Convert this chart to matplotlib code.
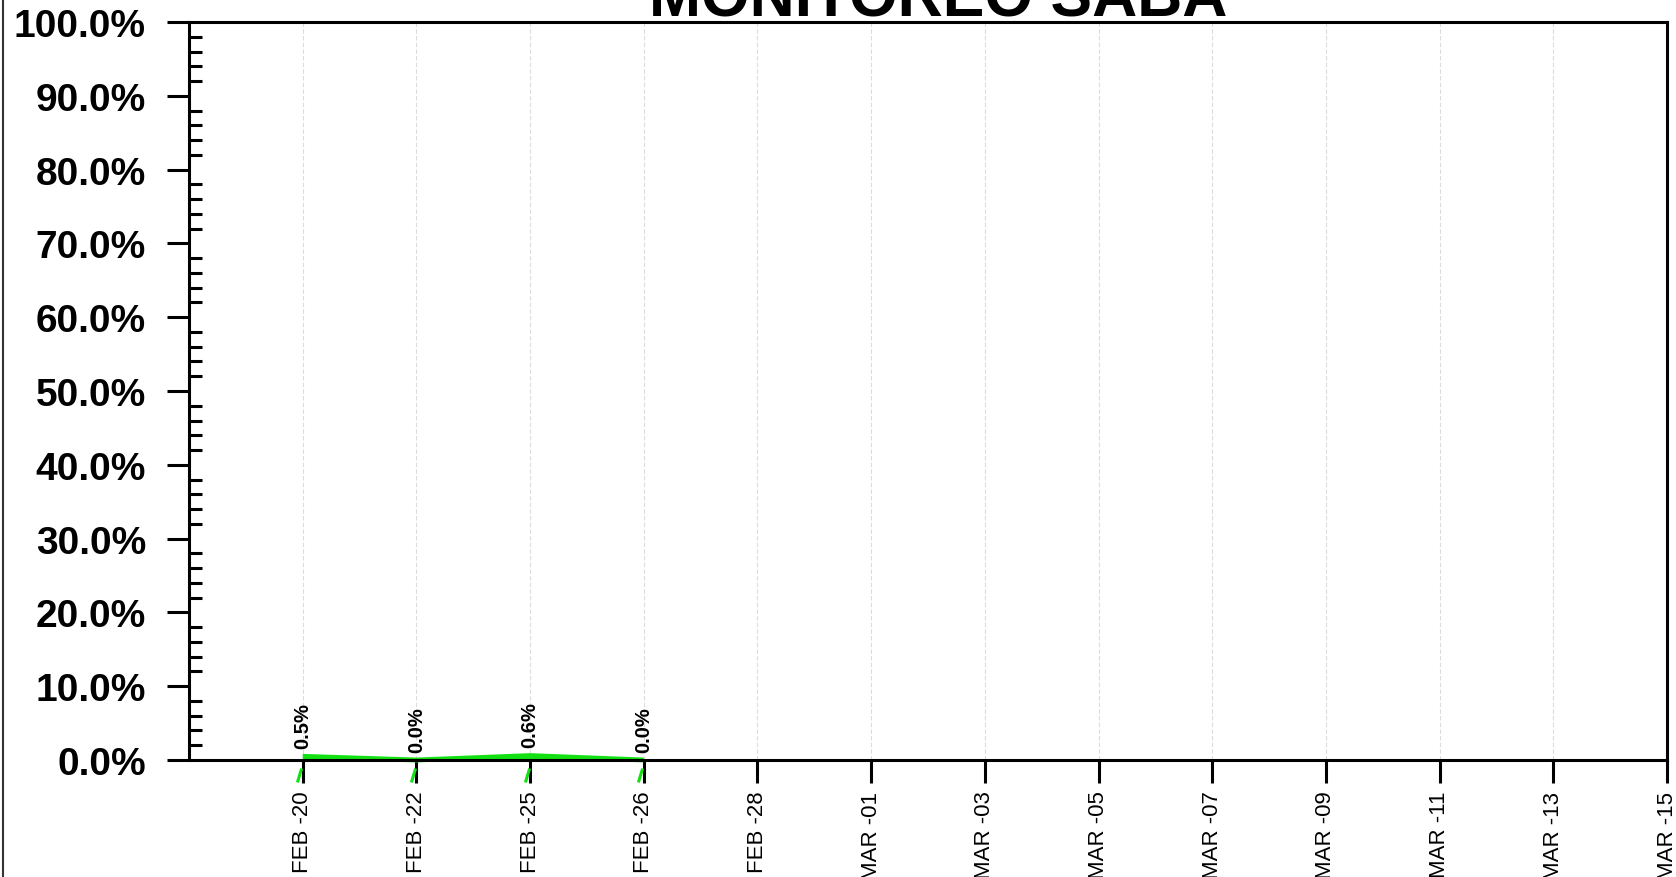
import numpy as np
import matplotlib
matplotlib.use("Agg")
from matplotlib import pyplot as plt
from matplotlib.ticker import MultipleLocator, FuncFormatter
from matplotlib.transforms import ScaledTranslation
from matplotlib.lines import Line2D

plt.rcParams['font.family'] = ['Liberation Sans', 'DejaVu Sans']

# donnees
etiquettes_x = ["FEB -20", "FEB -22", "FEB -25", "FEB -26", "FEB -28",
                "MAR -01", "MAR -03", "MAR -05", "MAR -07", "MAR -09",
                "MAR -11", "MAR -13", "MAR -15"]
pos_x = np.arange(1, len(etiquettes_x) + 1)
pos_mesures = np.array([1, 2, 3, 4])
valeurs = np.array([0.5, 0.0, 0.6, 0.0])

vert = '#12e012'

fig = plt.figure(figsize=(16.76, 8.78), dpi=100)
ax = fig.add_axes([189 / 1676, 1 - 761 / 878, (1667 - 189) / 1676, (761 - 23) / 878])

# courbe + aire
ax.fill_between(pos_mesures, 0, valeurs, color=vert, lw=0, clip_on=False, zorder=2)
ax.plot(pos_mesures, valeurs, '-', color=vert, lw=3.5, clip_on=False, zorder=2,
        solid_capstyle='butt')

# petits traits verts sous l'axe
decal = ScaledTranslation(-3.5 / 100, -14.5 / 100, fig.dpi_scale_trans)
ax.plot(pos_mesures, np.zeros(len(pos_mesures)), ls='none',
        marker=[(0.3, 1), (-0.3, -1)], markersize=10, markeredgewidth=2.2,
        markeredgecolor=vert, transform=ax.transData + decal, clip_on=False)

# etiquettes des valeurs
for xv, yv in zip(pos_mesures, valeurs):
    ax.annotate('%.1f%%' % yv, (xv, yv), xytext=(0, 6), textcoords='offset points',
                rotation=90, ha='center', va='bottom', fontsize=14.5,
                fontweight='bold')

ax.set_xlim(0, len(etiquettes_x))
ax.set_ylim(0, 100)

ax.set_xticks(pos_x)
ax.set_xticklabels(etiquettes_x, rotation=90, fontsize=16)
ax.yaxis.set_major_locator(MultipleLocator(10))
ax.yaxis.set_minor_locator(MultipleLocator(2))
ax.yaxis.set_major_formatter(FuncFormatter(lambda v, p: '%.1f%%' % v))
ax.tick_params(axis='y', which='major', length=16, width=2.2, direction='out',
               labelsize=28, pad=15)
ax.tick_params(axis='y', which='minor', length=9, width=2.2, direction='in')
ax.tick_params(axis='x', which='major', length=16.5, width=2.2, direction='out', pad=5.5)
plt.setp(ax.get_yticklabels(), fontweight='bold')

ax.grid(axis='x', color='#dcdcdc', lw=0.8, ls=(0, (4, 2)))
for s in ax.spines.values():
    s.set_linewidth(2.2)

# titre
fig.text(938 / 1676, 1 - 16.7 / 878, 'MONITOREO SABA', ha='center', va='baseline',
         fontsize=45, fontweight='bold')

# bordure gauche
fig.add_artist(Line2D([2.5 / 1676, 2.5 / 1676], [0, 1], color='#333333', lw=1.5))

fig.savefig('out.png', dpi=100)
